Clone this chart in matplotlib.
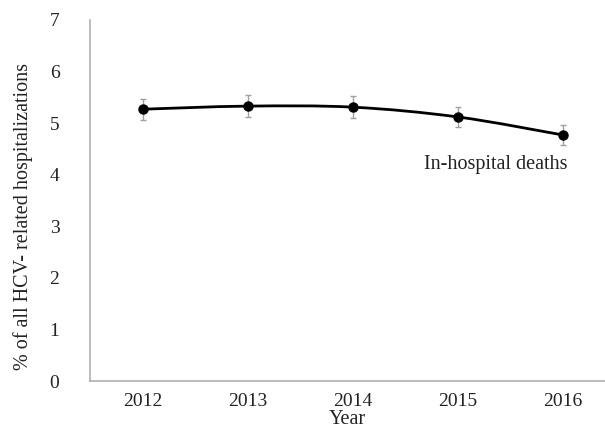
import numpy as np
import matplotlib
matplotlib.use("Agg")
import matplotlib.pyplot as plt
from matplotlib.path import Path
from matplotlib.patches import PathPatch

years = ["2012", "2013", "2014", "2015", "2016"]
deaths = [5.27, 5.33, 5.31, 5.12, 4.77]
errors = [0.20, 0.21, 0.21, 0.20, 0.20]

plt.rcParams['font.family'] = ['Liberation Serif', 'DejaVu Serif']

def smooth_path(x, y, t=1/6.):
    # Excel style smoothed line: cubic bezier through each point
    verts = [(x[0], y[0])]
    codes = [Path.MOVETO]
    n = len(x)
    for i in range(n - 1):
        x0, y0 = (x[i-1], y[i-1]) if i > 0 else (x[i], y[i])
        x3, y3 = (x[i+2], y[i+2]) if i + 2 < n else (x[i+1], y[i+1])
        c1 = (x[i] + (x[i+1] - x0)*t, y[i] + (y[i+1] - y0)*t)
        c2 = (x[i+1] - (x3 - x[i])*t, y[i+1] - (y3 - y[i])*t)
        verts += [c1, c2, (x[i+1], y[i+1])]
        codes += [Path.CURVE4]*3
    return Path(verts, codes)

fig = plt.figure(figsize=(6.05, 4.33), dpi=100)
ax = fig.add_axes([90/605, 1 - 381/433, 1 - 90/605, 361/433])

xpos = np.arange(len(years))
ax.add_patch(PathPatch(smooth_path(xpos, deaths), facecolor="none", edgecolor="black", lw=2.0, zorder=3))
ax.errorbar(xpos, deaths, yerr=errors, fmt="none", ecolor="#a0a0a0", elinewidth=1, capsize=2.5, capthick=1, zorder=2)
ax.plot(xpos, deaths, "o", color="black", ms=6.5, zorder=4)

ax.text(3.36, 4.2, "In-hospital deaths", fontsize=14.5, ha="center", va="center", color="#222222")

ax.set_xlim(-0.5, 4.4)
ax.set_ylim(0, 7)
ax.set_xticks(xpos)
ax.set_xticklabels(years)
ax.set_yticks(range(8))
ax.tick_params(length=0, labelsize=14, colors="#222222")
ax.tick_params(axis="y", pad=22)
ax.tick_params(axis="x", pad=9)
for s in ["top", "right"]:
    ax.spines[s].set_visible(False)
for s in ["left", "bottom"]:
    ax.spines[s].set_color("#b0b0b0")
    ax.spines[s].set_linewidth(1.2)

ax.set_xlabel("Year", fontsize=14.5, labelpad=0, color="#222222")
ax.set_ylabel("% of all HCV- related hospitalizations", fontsize=14.5, color="#222222")
ax.yaxis.set_label_coords(-0.11, 0.455)

fig.savefig("out.png", dpi=100)
